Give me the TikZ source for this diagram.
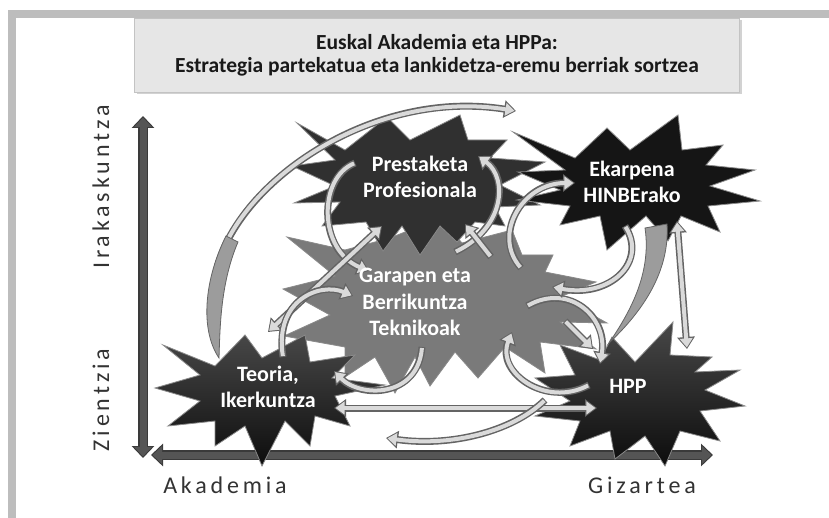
\documentclass[tikz,border=0pt]{standalone}
\usepackage{fontspec}
\setmainfont{Carlito}
\newfontfamily\axisfont[LetterSpace=16]{Carlito}
\usetikzlibrary{arrows.meta,shadows}
\definecolor{framegray}{HTML}{BDBDBD}
\definecolor{titlefill}{HTML}{E6E6E6}
\definecolor{axisfill}{HTML}{555555}
\definecolor{axisline}{HTML}{3A3A3A}
\definecolor{arrline}{HTML}{646464}
\definecolor{arrlight}{HTML}{DADADA}
\definecolor{arrmid}{HTML}{9C9C9C}
\definecolor{stardark}{HTML}{303030}
\definecolor{starblack}{HTML}{151515}
\definecolor{stargray}{HTML}{7A7A7A}
\definecolor{staredge}{HTML}{8A8A8A}
\definecolor{labelgray}{HTML}{333333}
\tikzset{
  arrout/.style={line width=7pt, draw=arrline},
  arrin/.style={line width=4pt},
  tipO/.style={-{Triangle[length=12pt,width=17pt]}},
  tipI/.style={-{Triangle[length=9pt,width=12.5pt]}, shorten >=1.6pt, shorten <=1pt},
  tipOO/.style={{Triangle[length=12pt,width=17pt]}-{Triangle[length=12pt,width=17pt]}},
  tipII/.style={{Triangle[length=9pt,width=12.5pt]}-{Triangle[length=9pt,width=12.5pt]}, shorten >=1.6pt, shorten <=1.6pt},
  starbase/.style={draw=staredge, line width=0.8pt, line join=miter},
  startext/.style={text=white, font=\fontsize{22}{26.5}\selectfont\bfseries, align=center, inner sep=0pt},
  axislabel/.style={text=labelgray, font=\axisfont\fontsize{24}{28}\selectfont, inner sep=0pt},
  titlebox/.style={fill=titlefill, draw=titlefill!85!black, line width=0.4pt, minimum width=605pt, minimum height=74pt,
     align=center, font=\fontsize{21.5}{23}\selectfont\bfseries, text=black!90,
     drop shadow={shadow xshift=2pt, shadow yshift=-2pt, opacity=0.35}},
  axout/.style={line width=10pt, draw=axisline, {Triangle[length=12pt,width=22pt]}-{Triangle[length=12pt,width=22pt]}},
  axin/.style={line width=7pt, draw=axisfill, {Triangle[length=9.5pt,width=17.5pt]}-{Triangle[length=9.5pt,width=17.5pt]}, shorten <=1.6pt, shorten >=1.6pt},
}
\newcommand{\onearr}[2]{\draw[arrout,tipO] #2; \draw[arrin,tipI,draw=#1] #2;}
\newcommand{\twoarr}[2]{\draw[arrout,tipOO] #2; \draw[arrin,tipII,draw=#1] #2;}
\begin{document}
\begin{tikzpicture}[x=1pt,y=-1pt]
\useasboundingbox (0,0) rectangle (829,518);
\fill[white] (0,0) rectangle (829,518);
% frame
\fill[framegray] (8,10) rectangle (829,18);
\fill[framegray] (8,10) rectangle (16,518);
% title
\node[titlebox] (title) at (437,55) {Euskal Akademia eta HPPa:\\Estrategia partekatua eta lankidetza-eremu berriak sortzea};
% axes
\coordinate (vtop) at (143,116);
\coordinate (vbot) at (143,458);
\coordinate (hleft) at (151,455);
\coordinate (hright) at (713,455);
\draw[axout] (vtop) -- (vbot);
\draw[axin] (vtop) -- (vbot);
\draw[axout] (hleft) -- (hright);
\draw[axin] (hleft) -- (hright);
\node[axislabel, rotate=90] (lirak) at (101,187) {Irakaskuntza};
\node[axislabel, rotate=90] (lzien) at (101,400) {Zientzia};
\node[axislabel] (lakad) at (225,485) {Akademia};
\node[axislabel] (lgiz) at (642,485) {Gizartea};
% stars
\draw[starbase, fill=stargray] (287,237) -- (345,250) -- (390,238) -- (440,218) -- (462,243) -- (512,230) -- (522,255) -- (553,255) -- (545,272) -- (596,282) -- (560,297) -- (607,323) -- (560,322) -- (596,349) -- (540,342) -- (545,373) -- (505,347) -- (478,378) -- (455,352) -- (430,386) -- (415,357) -- (395,393) -- (375,357) -- (345,377) -- (345,347) -- (284,336) -- (330,315) -- (283,289) -- (335,276) -- cycle;
\draw[starbase, fill=stardark] (297,123) -- (345,150) -- (387,117) -- (410,140) -- (460,115) -- (468,140) -- (507,140) -- (490,158) -- (545,162) -- (500,185) -- (540,205) -- (495,207) -- (505,226) -- (475,222) -- (457,242) -- (440,226) -- (420,255) -- (402,226) -- (383,251) -- (366,222) -- (322,226) -- (340,202) -- (294,203) -- (335,186) -- (292,166) -- (335,160) -- cycle;
\draw[starbase, fill=starblack] (513,132) -- (575,158) -- (607,128) -- (630,150) -- (678,115) -- (682,150) -- (723,145) -- (706,165) -- (755,170) -- (710,186) -- (760,201) -- (708,206) -- (720,232) -- (681,216) -- (668,241) -- (646,216) -- (607,250) -- (600,216) -- (560,225) -- (570,206) -- (517,200) -- (560,190) -- (518,172) -- (565,170) -- cycle;
\draw[starbase, top color=black!72, bottom color=black!95] (163,345) -- (215,366) -- (245,335) -- (262,358) -- (305,335) -- (310,362) -- (355,355) -- (332,378) -- (385,385) -- (335,396) -- (350,426) -- (315,416) -- (310,446) -- (285,421) -- (262,466) -- (245,426) -- (215,446) -- (215,421) -- (168,426) -- (200,401) -- (155,388) -- (200,375) -- cycle;
\draw[starbase, top color=black!72, bottom color=black!95] (612,337) -- (635,362) -- (673,322) -- (670,355) -- (712,357) -- (695,372) -- (740,370) -- (705,390) -- (745,406) -- (700,411) -- (720,441) -- (680,431) -- (665,466) -- (645,436) -- (615,459) -- (610,431) -- (570,446) -- (580,421) -- (535,416) -- (570,401) -- (535,378) -- (575,375) -- (560,345) -- (600,360) -- cycle;
% big arc, light part then gray tail band
\coordinate (a1s) at (214,292);
\coordinate (a1e) at (516,111);
\onearr{arrlight}{(a1s) .. controls (214,200) and (360,86) .. (a1e)}
\coordinate (a2top) at (226,236);
\coordinate (a2tip) at (219,358);
\draw[draw=arrline, line width=0.8pt, fill=arrmid] (a2top) .. controls (204,280) and (200,330) .. (a2tip) .. controls (220,330) and (220,284) .. (238,242) -- cycle;
% tapered band Ekarpena -> HPP
\coordinate (oe) at (609,343);
\draw[draw=arrline, line width=0.8pt, fill=arrmid] (645,228) .. controls (652,275) and (628,315) .. (oe) .. controls (642,312) and (670,272) .. (667,224) -- cycle;
% curved light arrows
\coordinate (b1) at (355,163);
\coordinate (b2) at (369,271);
\onearr{arrlight}{(b1) .. controls (318,178) and (318,250) .. (b2)}
\coordinate (c1) at (455,252);
\coordinate (c2) at (478,156);
\onearr{arrlight}{(c1) .. controls (505,228) and (508,178) .. (c2)}
\coordinate (d1) at (268,332);
\coordinate (d2) at (382,226);
\twoarr{arrlight}{(d1) -- (d2)}
\coordinate (d3) at (491,257);
\coordinate (d4) at (465,224);
\onearr{arrlight}{(d3) -- (d4)}
\coordinate (e1) at (283,357);
\coordinate (e2) at (353,296);
\onearr{arrlight}{(e1) .. controls (274,300) and (320,282) .. (e2)}
\coordinate (g1) at (422,347);
\coordinate (g2) at (334,371);
\onearr{arrlight}{(g1) .. controls (418,398) and (360,398) .. (g2)}
\coordinate (h1) at (334,408);
\coordinate (h2) at (597,408);
\twoarr{arrlight}{(h1) -- (h2)}
\coordinate (i1) at (545,400);
\coordinate (i2) at (386,438);
\onearr{arrlight}{(i1) .. controls (512,432) and (450,447) .. (i2)}
\coordinate (j1) at (589,385);
\coordinate (j2) at (512,332);
\onearr{arrlight}{(j1) .. controls (545,408) and (496,372) .. (j2)}
\coordinate (k1) at (527,306);
\coordinate (k2) at (600,364);
\onearr{arrlight}{(k1) .. controls (570,282) and (608,318) .. (k2)}
\coordinate (l1) at (565,321);
\coordinate (l2) at (593,349);
\onearr{arrlight}{(l1) -- (l2)}
\coordinate (m1) at (625,226);
\coordinate (m2) at (552,287);
\onearr{arrlight}{(m1) .. controls (648,262) and (610,298) .. (m2)}
\coordinate (n1) at (521,268);
\coordinate (n2) at (575,183);
\onearr{arrlight}{(n1) .. controls (492,235) and (522,183) .. (n2)}
\coordinate (p1) at (677,221);
\coordinate (p2) at (687,349);
\twoarr{arrlight}{(p1) -- (p2)}
% star texts
\node[startext] (prest) at (420,177) {Prestaketa\\Profesionala};
\node[startext] (ekar) at (632,182) {Ekarpena\\HINBErako};
\node[startext] (garap) at (415,302) {Garapen eta\\Berrikuntza\\Teknikoak};
\node[startext] (teoria) at (268,387) {Teoria,\\Ikerkuntza};
\node[startext] (hpp) at (628,386) {HPP};
\end{tikzpicture}
\end{document}
